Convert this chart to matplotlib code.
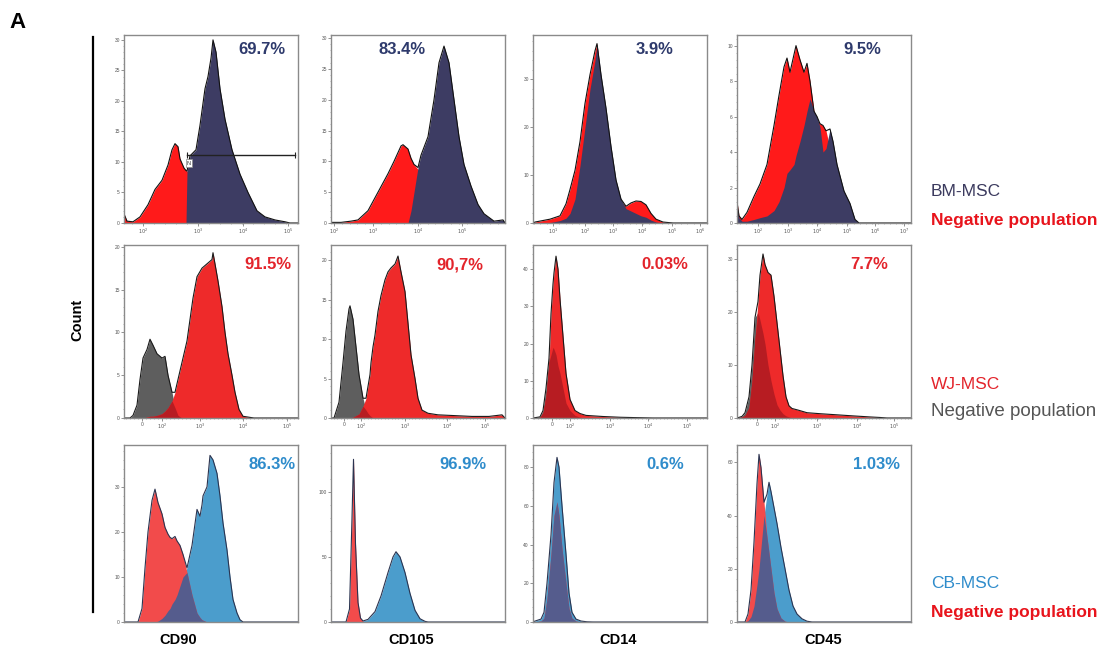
import numpy as np
import matplotlib.pyplot as plt
from matplotlib.ticker import AutoMinorLocator

plt.rcParams['font.family'] = ['Liberation Sans', 'DejaVu Sans']

W, H = 1111, 662

# channel positions (x) and event counts
# row 1: BM-MSC (pos) vs negative population (neg)
CD90_BM_X = [0, 3, 9, 16, 24, 31, 38, 44, 48, 51, 54, 56, 60, 62, 63, 66, 72, 76, 81, 84, 87, 89, 92, 96,
             101, 108, 116, 124, 133, 141, 151, 161, 166, 174]
CD90_BM_NEG = [1.5, 0.3, 0.2, 1, 3, 5.5, 7, 9.5, 12, 13, 12.5, 10.5, 9, 8.6, 8.5, 8, 6, 5, 3.5, 3, 2.5, 2, 1.8, 1.2,
               0.8, 0.5, 0.3, 0, 0, 0, 0, 0, 0, 0]
CD90_BM_POS = [0, 0, 0, 0, 0, 0, 0, 0, 0, 0, 0, 0, 0, 0, 8.5, 11, 12, 16, 22, 24, 27, 30, 28, 22,
               17, 12, 8, 5, 2, 1, 0.5, 0.2, 0, 0]

CD105_BM_X = [0, 10, 20, 27, 37, 47, 57, 63, 70, 72, 77, 80, 83, 87, 90, 97, 103, 108, 113, 118, 123, 128, 133,
              140, 147, 153, 163, 172, 174]
CD105_BM_NEG = [0.1, 0.1, 0.3, 0.5, 2, 5, 8, 10, 12.5, 12.7, 12, 10.5, 9.5, 8.7, 8, 6, 4, 3, 2, 1.5, 1, 0.6, 0.4,
                0.2, 0, 0, 0, 0, 0]
CD105_BM_POS = [0, 0, 0, 0, 0, 0, 0, 0, 0, 0, 0, 2, 5, 9, 11, 14, 20, 26, 28.7, 26, 20, 14, 9.5,
                6, 3, 1.5, 0.3, 0.5, 0]

CD14_BM_X = [0, 2, 17, 27, 33, 37, 42, 47, 52, 57, 62, 64, 68, 73, 78, 83, 88, 93, 98, 103, 108, 113, 118, 123,
             130, 140, 174]
CD14_BM_NEG = [0, 0.2, 0.8, 1.5, 4, 7, 11, 17, 25, 31, 36, 37.5, 30, 22, 14, 8, 4.5, 3.5, 4.2, 4.6, 4.5, 3.8, 2,
               0.8, 0.2, 0, 0]
CD14_BM_POS = [0, 0, 0.1, 0.5, 1, 2, 5, 12, 20, 28, 34, 37.5, 31, 24, 16, 9, 5, 3, 2.5, 2, 1.5, 1.2, 0.6,
               0.2, 0, 0, 0]

CD45_BM_X = [0, 2, 5, 10, 17, 23, 30, 37, 42, 47, 50, 53, 57, 59, 63, 67, 70, 73, 77, 80, 83, 86, 89, 93, 96,
             100, 107, 113, 118, 122, 174]
CD45_BM_NEG = [1.2, 0.4, 0.2, 0.6, 1.5, 2.2, 3.3, 5.5, 7.2, 8.8, 9.3, 8.5, 9.5, 10, 9.2, 8.5, 9.0, 8.0, 6.3, 5.8,
               5.6, 5.5, 5.2, 4.2, 3.5, 2.5, 1.2, 0.5, 0.1, 0, 0]
CD45_BM_POS = [1.0, 0.3, 0.1, 0.1, 0.2, 0.3, 0.4, 0.7, 1.2, 2.0, 2.8, 3.0, 3.3, 3.8, 4.6, 5.5, 6.3, 7.0, 6.3, 6.0,
               5.4, 4.0, 4.2, 5.3, 4.6, 3.3, 1.8, 1.1, 0.2, 0, 0]

# row 2: WJ-MSC (pos) vs negative population (neg)
CD90_WJ_X = [0, 6, 9, 13, 16, 19, 23, 26, 29, 33, 38, 41, 44, 48, 51, 54, 58, 63, 66, 69, 73, 78, 83, 88, 89, 91,
             94, 98, 101, 104, 108, 111, 115, 119, 130, 174]
CD90_WJ_NEG = [0, 0, 0.3, 1.5, 4.5, 7, 8, 9.2, 8.5, 7.5, 7, 7.2, 5, 3, 1.2, 0.3, 0, 0, 0, 0, 0, 0, 0, 0, 0, 0,
               0, 0, 0, 0, 0, 0, 0, 0, 0, 0]
CD90_WJ_POS = [0, 0, 0, 0, 0, 0, 0.1, 0.2, 0.2, 0.3, 0.5, 0.8, 1.2, 2, 3, 4.5, 6.5, 9, 11.5, 14, 16.5, 17.5, 18,
               18.5, 19.3, 18, 16, 13, 10, 7.5, 5, 3, 1, 0.2, 0, 0]

CD105_WJ_X = [0, 3, 8, 12, 15, 18, 19, 22, 25, 28, 32, 35, 37, 39, 40, 42, 44, 47, 50, 54, 57, 60, 64, 67, 70,
              74, 77, 80, 84, 87, 91, 97, 107, 124, 141, 158, 171, 174]
CD105_WJ_NEG = [0, 0, 2, 7, 11, 13.8, 14.2, 12.5, 9, 5.5, 2.5, 1, 0.6, 0.3, 0.2, 0, 0, 0, 0, 0, 0, 0, 0, 0, 0,
                0, 0, 0, 0, 0, 0, 0, 0, 0, 0, 0, 0, 0]
CD105_WJ_POS = [0, 0, 0, 0, 0, 0, 0, 0.1, 0.3, 0.5, 1.5, 2.5, 4, 5.5, 7, 9, 10.5, 13.5, 15.5, 17.5, 18.5, 19, 19.5,
                20.5, 18.5, 16, 12, 8, 5, 2.5, 1, 0.6, 0.4, 0.3, 0.2, 0.2, 0.4, 0]

CD14_WJ_X = [0, 7, 10, 13, 16, 18, 20, 21, 23, 25, 27, 30, 33, 37, 42, 47, 53, 70, 87, 103, 120, 174]
CD14_WJ_NEG = [0, 0.3, 2, 8, 16, 17, 19, 18.5, 17, 14, 12, 8, 4, 2, 0.7, 0.2, 0, 0, 0, 0, 0, 0]
CD14_WJ_POS = [0, 0.2, 1.5, 6, 15, 28, 36, 39, 43.5, 40, 32, 22, 12, 5, 2, 1.2, 0.7, 0.4, 0.2, 0.1, 0, 0]

CD45_WJ_X = [0, 5, 8, 12, 15, 18, 21, 23, 26, 28, 31, 34, 37, 40, 43, 46, 49, 52, 55, 61, 70, 84, 100, 116, 133,
             143, 150, 174]
CD45_WJ_NEG = [0, 0.3, 1, 4, 10, 19, 20, 18.5, 16, 14, 10, 7, 4.5, 2.5, 1.5, 0.8, 0.4, 0.2, 0, 0, 0, 0, 0, 0, 0,
               0, 0, 0]
CD45_WJ_POS = [0, 0.2, 0.5, 2, 7, 15, 22, 27, 31, 29, 27.5, 27, 23, 18, 13, 8, 4, 2.3, 1.8, 1.5, 1, 0.8, 0.6, 0.4,
               0.2, 0.1, 0, 0]

# row 3: CB-MSC (pos) vs negative population (neg)
CD90_CB_X = [0, 14, 18, 21, 24, 28, 31, 34, 38, 41, 44, 46, 48, 51, 53, 56, 59, 63, 68, 73, 76, 78, 79, 83, 86,
             89, 93, 96, 99, 103, 106, 109, 113, 116, 119, 174]
CD90_CB_NEG = [0, 0, 3, 12, 20, 27, 29.5, 26.5, 24, 21, 19.5, 18.8, 18.5, 19, 18, 17, 15, 11, 6, 2, 1, 0.5, 0.4,
               0, 0, 0, 0, 0, 0, 0, 0, 0, 0, 0, 0, 0]
CD90_CB_POS = [0, 0, 0, 0, 0, 0, 0, 0.2, 0.8, 1.5, 2.5, 3, 4, 5, 6, 8, 10, 12, 17, 25, 23.5, 26, 28, 30, 37, 36,
               33, 28, 22, 16, 10, 5, 2, 0.5, 0, 0]

CD105_CB_X = [0, 15, 18.5, 21, 22.5, 24.5, 27, 29.5, 32, 37, 44, 50, 57, 62, 65, 69, 74, 79, 84, 89, 94, 97, 174]
CD105_CB_NEG = [0, 0, 10, 80, 125, 60, 15, 3, 0.5, 0, 0, 0, 0, 0, 0, 0, 0, 0, 0, 0, 0, 0, 0]
CD105_CB_POS = [0, 0, 0, 0, 0, 0, 0, 0.2, 0.8, 2, 8, 20, 38, 50, 54, 50, 38, 22, 9, 2.5, 0.5, 0, 0]

CD14_CB_X = [0, 1, 8, 11, 14, 18, 21, 24, 26, 29, 33, 36, 39, 43, 48, 54, 60, 174]
CD14_CB_NEG = [0, 0, 0.5, 2, 12, 35, 55, 62, 55, 38, 20, 7, 2, 0.5, 0, 0, 0, 0]
CD14_CB_POS = [0, 0.3, 1.5, 5, 20, 45, 72, 85, 80, 60, 35, 15, 5, 1.5, 0.5, 0.1, 0, 0]

CD45_CB_X = [0, 8, 11, 14, 17, 20, 22, 24, 27, 30, 32, 34, 37, 40, 44, 48, 52, 56, 60, 65, 70, 75, 174]
CD45_CB_NEG = [0, 0, 3, 12, 30, 52, 63, 58, 45, 32, 26, 20, 11, 5, 1.5, 0.3, 0, 0, 0, 0, 0, 0, 0]
CD45_CB_POS = [0, 0, 0.5, 2, 6, 14, 20, 28, 40, 48, 52.5, 49, 43, 37, 28, 20, 12, 6, 3, 1.2, 0.3, 0, 0]

MARKERS = ["CD90", "CD105", "CD14", "CD45"]
CELL_TYPES = ["BM-MSC", "WJ-MSC", "CB-MSC"]
PERCENTS = [["69.7%", "83.4%", "3.9%", "9.5%"],
            ["91.5%", "90,7%", "0.03%", "7.7%"],
            ["86.3%", "96.9%", "0.6%", "1.03%"]]
Y_MAX = [[30.8, 30.5, 39.3, 10.6],
         [20.2, 21.9, 46.5, 32.7],
         [39.3, 136, 91.4, 66.5]]
Y_TICKS = [[range(0, 31, 5), range(0, 31, 5), range(0, 31, 10), range(0, 11, 2)],
           [range(0, 21, 5), range(0, 21, 5), range(0, 41, 10), range(0, 31, 10)],
           [range(0, 31, 10), range(0, 101, 50), range(0, 81, 20), range(0, 61, 20)]]
LOG_LABELS = ["$10^{%d}$" % d for d in range(1, 8)]
X_TICKS = [[[19, 74, 119, 164], [3, 42, 87, 131], [20, 52, 80, 109, 139, 167], [21, 51, 80, 110, 138, 167]],
           [[18, 38, 76, 119, 163], [13, 30, 74, 116, 154], [19, 37, 77, 115, 154], [20, 38, 80, 120, 157]]]
X_LABELS = [[LOG_LABELS[1:5], LOG_LABELS[1:5], LOG_LABELS[0:6], LOG_LABELS[1:7]],
            [["0"] + LOG_LABELS[1:5]] * 4]
GATE_X = [63, 171]
GATE_Y = 11.2

DATA = [
    [(CD90_BM_X, CD90_BM_NEG, CD90_BM_POS), (CD105_BM_X, CD105_BM_NEG, CD105_BM_POS),
     (CD14_BM_X, CD14_BM_NEG, CD14_BM_POS), (CD45_BM_X, CD45_BM_NEG, CD45_BM_POS)],
    [(CD90_WJ_X, CD90_WJ_NEG, CD90_WJ_POS), (CD105_WJ_X, CD105_WJ_NEG, CD105_WJ_POS),
     (CD14_WJ_X, CD14_WJ_NEG, CD14_WJ_POS), (CD45_WJ_X, CD45_WJ_NEG, CD45_WJ_POS)],
    [(CD90_CB_X, CD90_CB_NEG, CD90_CB_POS), (CD105_CB_X, CD105_CB_NEG, CD105_CB_POS),
     (CD14_CB_X, CD14_CB_NEG, CD14_CB_POS), (CD45_CB_X, CD45_CB_NEG, CD45_CB_POS)],
]

# layout in pixels
COL_LEFT = [124, 331, 533, 737]
COL_W = 174
ROW_TOP = [35, 245, 445]
ROW_H = [188, 173, 177]
PCT_X = [[0.79, 0.41, 0.70, 0.72], [0.83, 0.74, 0.76, 0.76], [0.85, 0.76, 0.76, 0.80]]
PCT_Y = [0.925, 0.885, 0.89]

NAVY = "#3d3c63"
RED = "#ff1a1a"
BLUE = "#4b9dcc"
ROW_STYLE = [
    dict(neg=RED, pos=NAVY, overlap=None, edge="#111111", pct="#2e3a6c", pos_on_top=True),
    dict(neg="#5e5e5e", pos="#ee2a2a", overlap="#b71c22", edge="#1a1a1a", pct="#e3242b", pos_on_top=True),
    dict(neg="#f24b4b", pos=BLUE, overlap="#555c8d", edge="#2b3450", pct="#2f8ccb", pos_on_top=False),
]


def add_px_axes(fig, left, top, width, height):
    return fig.add_axes([left / W, 1 - (top + height) / H, width / W, height / H])


def fig_text(fig, x, y, s, **kw):
    fig.text(x / W, 1 - y / H, s, **kw)


def draw_panel(ax, r, c):
    x, neg, pos = (np.array(v, dtype=float) for v in DATA[r][c])
    st = ROW_STYLE[r]
    if st["pos_on_top"]:
        ax.fill_between(x, neg, color=st["neg"], lw=0)
        ax.fill_between(x, pos, color=st["pos"], lw=0)
    else:
        ax.fill_between(x, pos, color=st["pos"], lw=0)
        ax.fill_between(x, neg, color=st["neg"], lw=0)
    if st["overlap"]:
        ax.fill_between(x, np.minimum(neg, pos), color=st["overlap"], lw=0)
    ax.plot(x, np.maximum(neg, pos), color=st["edge"], lw=0.8)

    ax.set_xlim(0, COL_W)
    ax.set_ylim(0, Y_MAX[r][c])
    ax.set_yticks(list(Y_TICKS[r][c]))
    if r < 2:
        ax.set_xticks(X_TICKS[r][c])
        ax.set_xticklabels(X_LABELS[r][c])
    else:
        ax.set_xticks([])
    ax.xaxis.set_minor_locator(AutoMinorLocator(5))
    ax.yaxis.set_minor_locator(AutoMinorLocator(5))
    ax.tick_params(which="major", length=2, width=0.5, labelsize=3.5, pad=1,
                   color="#666666", labelcolor="#555555")
    ax.tick_params(which="minor", length=1, width=0.4, color="#888888")
    for sp in ax.spines.values():
        sp.set_color("#8a8a8a")
        sp.set_linewidth(1.0)

    ax.text(PCT_X[r][c], PCT_Y[r], PERCENTS[r][c], transform=ax.transAxes,
            ha="center", va="center", fontsize=12, fontweight="bold", color=st["pct"])


fig = plt.figure(figsize=(W / 100, H / 100), dpi=100)

for r in range(3):
    for c in range(4):
        ax = add_px_axes(fig, COL_LEFT[c], ROW_TOP[r], COL_W, ROW_H[r])
        draw_panel(ax, r, c)
        if r == 0 and c == 0:
            ax.plot(GATE_X, [GATE_Y, GATE_Y], color="#222222", lw=1.0, marker="|", ms=5, mew=0.8)
            ax.text(65, 9.8, "N", fontsize=4, ha="center", va="center", color="#333333",
                    bbox=dict(boxstyle="square,pad=0.25", fc="white", ec="#888888", lw=0.5))

# left annotations
fig_text(fig, 18, 22, "A", fontsize=16, fontweight="bold", ha="center", va="center")
fig.add_artist(plt.Line2D([93 / W, 93 / W], [1 - 37 / H, 1 - 612 / H], color="black", lw=1.6))
fig_text(fig, 77, 320, "Count", fontsize=10.5, fontweight="bold", rotation=90, ha="center", va="center")

# bottom marker labels
for name, cx in zip(MARKERS, [178, 411, 618, 823]):
    fig_text(fig, cx, 640, name, fontsize=10.5, fontweight="bold", ha="center", va="center")

# right legend labels
RIGHT_LABELS = [
    (192, CELL_TYPES[0], "#3b3a5e", "normal", 12.5),
    (221, "Negative population", "#e8141c", "bold", 12.5),
    (384, CELL_TYPES[1], "#e3242b", "normal", 12.5),
    (411, "Negative population", "#555555", "normal", 13.5),
    (584, CELL_TYPES[2], "#2f8ccb", "normal", 12.5),
    (612, "Negative population", "#e8141c", "bold", 12.5),
]
for y, s, col, wt, fs in RIGHT_LABELS:
    fig_text(fig, 931, y, s, fontsize=fs, fontweight=wt, color=col, ha="left", va="center")

fig.savefig("out.png", dpi=100)
